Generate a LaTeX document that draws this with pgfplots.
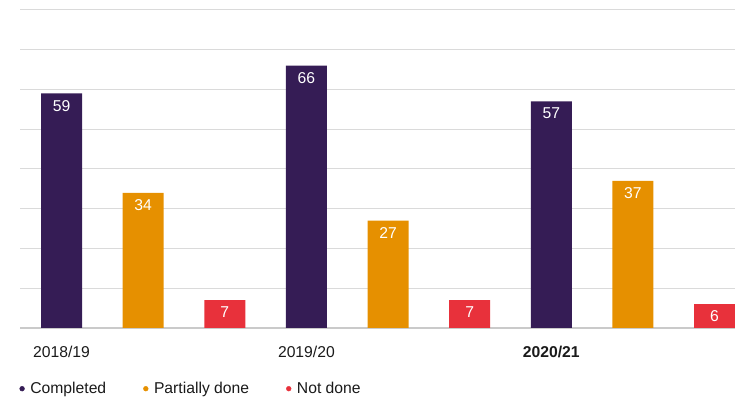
\documentclass[border=0pt]{standalone}
\usepackage{pgfplots}
\pgfplotsset{compat=1.18}
\usepackage{fontspec}
\setmainfont{Liberation Sans}
\definecolor{cPur}{HTML}{351C55}
\definecolor{cOra}{HTML}{E69000}
\definecolor{cRed}{HTML}{E8313B}
\definecolor{cGrid}{HTML}{DADADA}
\definecolor{cBase}{HTML}{CACACA}
\definecolor{cText}{HTML}{1A1A1A}
\newcommand{\chfont}{\fontsize{15.7}{18}\selectfont}
\begin{document}
\begin{tikzpicture}
\begin{axis}[
 name=ax,
 scale only axis, width=715pt, height=318pt,
 xmin=-0.509, xmax=8.251, ymin=0, ymax=80,
 ybar, bar width=41pt,
 axis line style={draw=none},
 major tick length=0pt,
 ytick={10,20,...,80}, yticklabels={},
 ymajorgrids, grid style={cGrid, line width=1pt},
 extra y ticks={0}, extra y tick labels={},
 extra y tick style={grid style={cBase, line width=2pt}},
 xtick={0,3,6}, xticklabels={2018/19,2019/20,\textbf{2020/21}},
 xticklabel style={font=\chfont, text=cText, yshift=-14.5pt},
 /pgf/number format/assume math mode=true,
 nodes near coords,
 every node near coord/.append style={font=\chfont, text=white, anchor=north, inner sep=0pt, yshift=-6.5pt},
 legend image code/.code={\fill (0pt,0pt) circle (2.4pt);},
 legend style={draw=none, fill=none, font=\chfont, text=cText,
   at={(axis description cs:0,0)}, anchor=west, yshift=-60.7pt, xshift=-0.7pt,
   inner sep=0pt, nodes={inner sep=0pt},
   /tikz/every odd column/.append style={column sep=5.6pt},
   /tikz/every even column/.append style={column sep=37pt}},
 legend columns=3,
 legend cell align=left,
]
\addlegendimage{cPur}
\addlegendimage{cOra}
\addlegendimage{cRed}
\addplot[fill=cPur, draw=none, bar shift=0pt] coordinates {(0,59) (3,66) (6,57)};
\addplot[fill=cOra, draw=none, bar shift=0pt] coordinates {(1,34) (4,27) (7,37)};
\addplot[fill=cRed, draw=none, bar shift=0pt] coordinates {(2,7) (5,7) (8,6)};
\legend{Completed, Partially done, Not done}
\end{axis}
\pgfresetboundingbox
\path ([xshift=-20pt,yshift=-69pt]ax.south west) rectangle ([yshift=10pt]ax.north east);
\end{tikzpicture}
\end{document}
